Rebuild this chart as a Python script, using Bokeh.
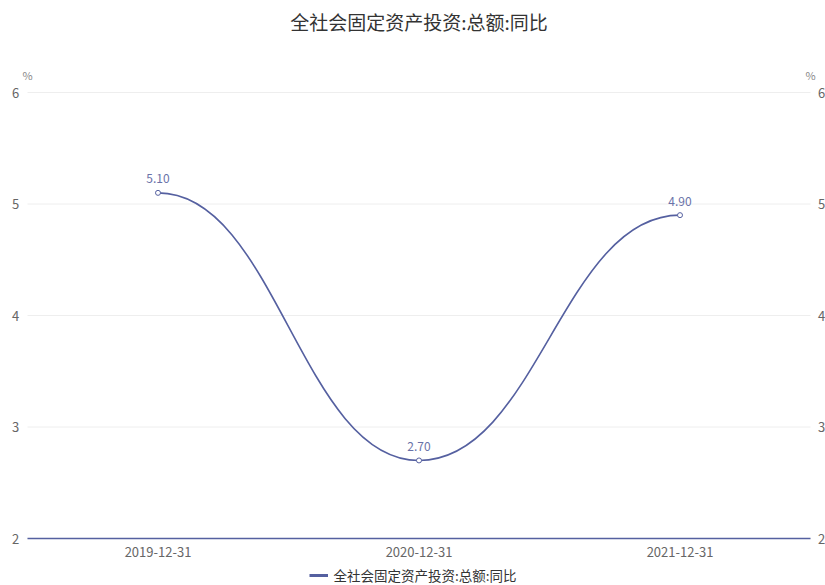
from bokeh.plotting import figure
from bokeh.models import ColumnDataSource, Range1d, Legend, LegendItem
from bokeh.core.properties import value
from bokeh.embed import file_html
from bokeh.resources import INLINE

title_text = "全社会固定资产投资:总额:同比"
series_name = "全社会固定资产投资:总额:同比"
categories = ["2019-12-31", "2020-12-31", "2021-12-31"]
values = [5.10, 2.70, 4.90]
y_ticks = [2, 3, 4, 5, 6]
unit = "%"

LINE = "#5560a0"
TEXT = "#666666"
FONT = "Noto Sans CJK SC"

W, H = 825, 585
L, R, T, B = 27, 15, 92, 47          # plot-area margins in pixels
n = len(categories)
ymin, ymax = min(y_ticks), max(y_ticks)
ux = (W - L - R) / n                 # pixels per category
uy = (H - T - B) / (ymax - ymin)     # pixels per unit

p = figure(width=W, height=H, output_backend="svg", toolbar_location=None,
           x_range=Range1d(-L / ux, n + R / ux), y_range=Range1d(ymin - B / uy, ymax + T / uy),
           min_border=0, outline_line_color=None,
           background_fill_color="white", border_fill_color="white")
p.axis.visible = False
p.grid.visible = False

xs = [i + 0.5 for i in range(n)]

# horizontal grid lines and the category axis line
p.segment(x0=[0] * len(y_ticks), x1=[n] * len(y_ticks), y0=y_ticks, y1=y_ticks,
          line_color="#eeeeee", line_width=1)
p.segment(x0=[0], x1=[n], y0=[ymin], y1=[ymin], line_color=LINE, line_width=1.6)

# y tick labels on both sides
p.text(x=[0] * len(y_ticks), y=y_ticks, text=[str(t) for t in y_ticks], x_offset=-12,
       text_align="center", text_baseline="middle", text_font=value(FONT),
       text_font_size="13px", text_color=TEXT)
p.text(x=[n] * len(y_ticks), y=y_ticks, text=[str(t) for t in y_ticks], x_offset=11,
       text_align="center", text_baseline="middle", text_font=value(FONT),
       text_font_size="13px", text_color=TEXT)
# unit labels
p.text(x=[0, n], y=[ymax, ymax], text=[unit, unit], y_offset=-18, text_align="center",
       text_baseline="middle", text_font=value(FONT), text_font_size="11px", text_color="#888888")

# category labels
p.text(x=xs, y=[ymin] * n, text=categories, y_offset=13, text_align="center",
       text_baseline="middle", text_font=value(FONT), text_font_size="13px", text_color=TEXT)

# title
p.text(x=[n / 2], y=[ymax], text=[title_text], y_offset=-71, text_align="center",
       text_baseline="middle", text_font=value(FONT), text_font_size="19px", text_color="#333333")

# smooth curve through the points (cubic segments with horizontal tangents)
k = 0.45
seg = dict(x0=xs[:-1], y0=values[:-1], x1=xs[1:], y1=values[1:],
           cx0=[a + k * (b - a) for a, b in zip(xs[:-1], xs[1:])], cy0=values[:-1],
           cx1=[b - k * (b - a) for a, b in zip(xs[:-1], xs[1:])], cy1=values[1:])
bez = p.bezier(x0="x0", y0="y0", x1="x1", y1="y1", cx0="cx0", cy0="cy0", cx1="cx1", cy1="cy1",
               source=ColumnDataSource(seg), line_color=LINE, line_width=1.6)

src = ColumnDataSource(dict(x=xs, y=values, lab=[f"{v:.2f}" for v in values]))
p.scatter("x", "y", source=src, size=5, fill_color="white", line_color=LINE, line_width=1)
p.text("x", "y", text="lab", source=src, text_align="center", text_baseline="middle",
       y_offset=-14, text_font=value(FONT), text_font_size="12px", text_color="#6a72a8")

# legend icon line is thicker than the series line
leg_line = p.line(x=[xs[0]], y=[values[0]], line_color=LINE, line_width=3, visible=False)
legend = Legend(items=[LegendItem(label=series_name, renderers=[leg_line])],
                orientation="horizontal", location="bottom_center",
                border_line_color=None, background_fill_alpha=0,
                label_text_font=FONT, label_text_font_size="13.5px", label_text_color="#333333",
                glyph_width=19, glyph_height=12, label_standoff=6, padding=0, margin=0, spacing=10)
p.add_layout(legend, "center")

open("out.html", "w").write(file_html(p, INLINE))
